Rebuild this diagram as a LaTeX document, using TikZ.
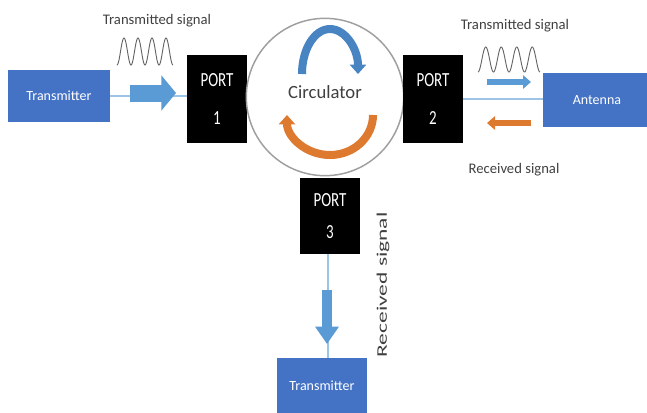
\documentclass[tikz,border=0pt]{standalone}
\usepackage{fontspec}
\setmainfont{Carlito}
\usepackage{xcolor}
\usepackage{tikz}
\usetikzlibrary{arrows.meta,shapes,positioning}
\definecolor{circblue}{RGB}{68,114,196}
\definecolor{circlight}{RGB}{91,155,213}
\definecolor{circarc}{RGB}{72,132,194}
\definecolor{circorange}{RGB}{222,122,48}
\definecolor{circline}{RGB}{157,195,230}
\definecolor{circtext}{RGB}{64,64,64}
\newcommand{\portlbl}[1]{\scalebox{0.75}[1]{#1}}

\begin{document}
\begin{tikzpicture}[x=0.75pt, y=-0.75pt,
    endbox/.style={rectangle, fill=circblue, text=white, inner sep=0pt, font=\fontsize{10.5}{12}\selectfont},
    portbox/.style={rectangle, fill=black, text=white, inner sep=0pt, align=center, minimum width=44.5pt},
    sig/.style={font=\fontsize{11}{13}\selectfont, text=circtext, inner sep=0pt},
    conn/.style={circline, line width=1pt},
    fatarrow/.style={circlight, line width=12.75pt, -{Triangle[width=26pt, length=11pt]}},
    thinarrow/.style={line width=5pt, -{Triangle[width=10pt, length=6pt]}},
    wave/.style={gray!80!black, line width=0.7pt}
]
    \useasboundingbox (0,0) rectangle (647,412);

    % boxes
    \node[endbox, minimum width=76.5pt, minimum height=39pt] (txL) at (59,96) {Transmitter};
    \node[portbox, minimum height=66pt, font=\fontsize{15}{28}\selectfont] (p1) at (217,99) {\portlbl{PORT}\\\portlbl{1}};
    \node[circle, draw=gray!75, line width=1.1pt, minimum size=118pt, inner sep=0pt] (circ) at (325,97) {};
    \node[font=\fontsize{14}{16}\selectfont, text=circtext] (lblC) at (325,92) {Circulator};
    \node[portbox, minimum height=66pt, font=\fontsize{15}{28}\selectfont] (p2) at (433,99) {\portlbl{PORT}\\\portlbl{2}};
    \node[endbox, minimum width=81pt, minimum height=40pt] (ant) at (597,100) {Antenna};
    \node[portbox, minimum height=57pt, font=\fontsize{15}{24}\selectfont] (p3) at (330,216) {\portlbl{PORT}\\\portlbl{3}};
    \node[endbox, minimum width=67.5pt, minimum height=42pt] (txB) at (322,386) {Transmitter};

    % connectors
    \draw[conn] (txL) -- (txL -| p1.west);
    \draw[conn] (p2.east) -- (p2.east -| ant.west);
    \draw[conn] (p3.south -| 328,0) -- (txB.north -| 328,0);

    % signal arrows
    \coordinate (inA) at (130,93);
    \coordinate (inB) at (176,93);
    \coordinate (txA) at (487,82);
    \coordinate (txB2) at (531,82);
    \coordinate (rxA) at (531,123);
    \coordinate (rxB) at (487,123);
    \coordinate (outA) at (327,290);
    \coordinate (outB) at (327,344);
    \draw[fatarrow] (inA) -- (inB);
    \draw[thinarrow, circlight] (txA) -- (txB2);
    \draw[thinarrow, circorange] (rxA) -- (rxB);
    \draw[circlight, line width=7.5pt, -{Triangle[width=17pt, length=13pt]}] (outA) -- (outB);

    % circulation
    \draw[circarc, line width=6pt, -{Triangle[width=12pt, length=7pt]}] (302,74) arc[start angle=180, end angle=360, x radius=28, y radius=45];
    \draw[circorange, line width=6pt, -{Triangle[width=12pt, length=7pt]}] (373,115) arc[start angle=0, end angle=180, x radius=43, y radius=40];

    % waves
    \draw[wave] plot[domain=0:4, samples=120] ({117+14*\x}, {51.5+13.5*cos(360*\x)});
    \draw[wave] plot[domain=0:4, samples=120] ({478+15.5*\x}, {59.5+12.5*cos(360*\x)});

    % labels
    \node[sig] (tsL) at (157,21) {Transmitted signal};
    \node[sig] (tsR) at (515,26) {Transmitted signal};
    \node[sig] (rsR) at (514,170) {Received signal};
    \node[sig, rotate=90] (rsB) at (383,285) {\scalebox{1.6}[1]{Received signal}};
\end{tikzpicture}
\end{document}
